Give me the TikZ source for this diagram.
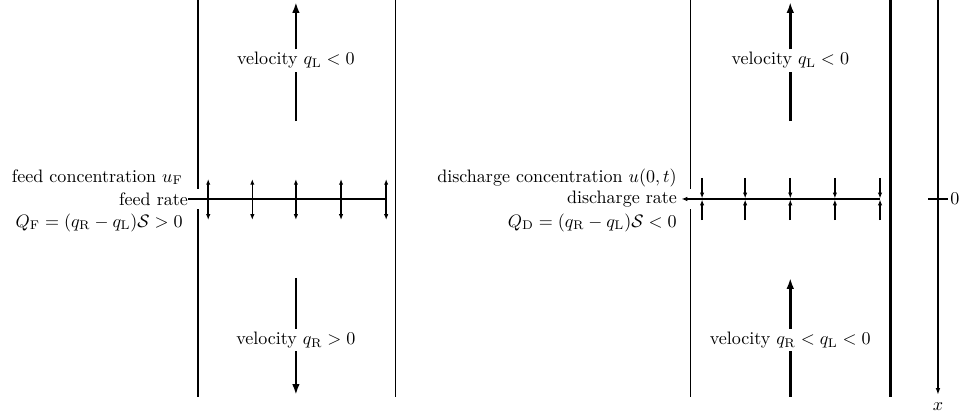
\documentclass[tikz,border=0pt]{standalone}
\usepackage{amsmath,amssymb}
\usetikzlibrary{arrows.meta}

\begin{document}
\begin{tikzpicture}[
  thickwall/.style={line width=1.4pt},
  thinwall/.style={line width=0.5pt},
  bigline/.style={line width=1.4pt},
  bigarrow/.style={line width=1.4pt, -{Latex[length=6pt,width=4.2pt]}},
  flowline/.style={line width=1.2pt},
  smallarrow/.style={line width=0.9pt, -{Latex[length=3.2pt,width=2.4pt]}},
  axisarrow/.style={line width=1pt, -{Latex[length=3.8pt,width=2.6pt]}},
  vlabel/.style={fill=white, inner sep=1.5pt},
  sidelabel/.style={inner sep=0pt}
]
\useasboundingbox (0,-4.23) rectangle (18.70,3.88);

% Left vessel: feed
\draw[thickwall] (3.86,3.88) -- (3.86,0.2);
\draw[thickwall] (3.86,-0.2) -- (3.86,-3.86);
\draw[thinwall] (7.72,3.88) -- (7.72,-3.86);

\node[sidelabel, anchor=base east] (fconc) at (3.57,0.33) {feed concentration $u_{\mathrm{F}}$};
\node[sidelabel, anchor=east] (frate) at (3.67,0) {feed rate};
\node[sidelabel, anchor=base east] (fflux) at (3.57,-0.55) {$Q_{\mathrm{F}} = (q_{\mathrm{R}}-q_{\mathrm{L}})\mathcal{S} > 0$};

\coordinate (fend) at (7.55,0);
\draw[flowline] (frate.east) -- (fend);

% Feed spreading up and down
\foreach \x [count=\i] in {4.06,4.92,5.77,6.65,7.53} {
  \coordinate (fc\i) at (\x,0);
  \coordinate (fu\i) at (\x,0.39);
  \coordinate (fd\i) at (\x,-0.41);
  \draw[smallarrow] (fc\i) -- (fu\i);
  \draw[smallarrow] (fc\i) -- (fd\i);
}

% Left velocities
\node[vlabel] (velLup) at (5.77,2.70) {velocity $q_{\mathrm{L}} < 0$};
\coordinate (lupbase) at (5.77,1.52);
\coordinate (luptip) at (5.77,3.84);
\draw[bigline] (lupbase) -- (velLup);
\draw[bigarrow] (velLup) -- (luptip);

\node[vlabel] (velLdown) at (5.77,-2.75) {velocity $q_{\mathrm{R}} > 0$};
\coordinate (ldownbase) at (5.77,-1.54);
\coordinate (ldowntip) at (5.77,-3.82);
\draw[bigline] (ldownbase) -- (velLdown);
\draw[bigarrow] (velLdown) -- (ldowntip);

% Right vessel: discharge
\draw[thinwall] (13.47,3.88) -- (13.47,0.2);
\draw[thinwall] (13.47,-0.2) -- (13.47,-3.86);
\draw[thickwall] (17.36,3.88) -- (17.36,-3.86);

\node[sidelabel, anchor=base east] (dconc) at (13.20,0.33) {discharge concentration $u(0,t)$};
\node[anchor=east, inner sep=2.4pt] (drate) at (13.29,0) {discharge rate};
\node[sidelabel, anchor=base east] (dflux) at (13.20,-0.55) {$Q_{\mathrm{D}} = (q_{\mathrm{R}}-q_{\mathrm{L}})\mathcal{S} < 0$};

\coordinate (dstart) at (17.16,0);
\draw[flowline, -{Latex[length=3.2pt,width=2.6pt]}] (dstart) -- (drate.east);

% Discharge collecting from above and below
\foreach \x [count=\i] in {13.69,14.53,15.41,16.28,17.16} {
  \coordinate (du\i) at (\x,0.41);
  \coordinate (dut\i) at (\x,0.01);
  \coordinate (dd\i) at (\x,-0.41);
  \coordinate (ddt\i) at (\x,-0.01);
  \draw[smallarrow] (du\i) -- (dut\i);
  \draw[smallarrow] (dd\i) -- (ddt\i);
}

% Right velocities
\node[vlabel] (velRup) at (15.41,2.70) {velocity $q_{\mathrm{L}} < 0$};
\coordinate (rupbase) at (15.41,1.52);
\coordinate (ruptip) at (15.41,3.84);
\draw[bigline] (rupbase) -- (velRup);
\draw[bigarrow] (velRup) -- (ruptip);

\node[vlabel] (velRlow) at (15.41,-2.75) {velocity $q_{\mathrm{R}} < q_{\mathrm{L}} < 0$};
\coordinate (rlowbase) at (15.41,-3.86);
\coordinate (rlowtip) at (15.41,-1.54);
\draw[bigline] (rlowbase) -- (velRlow);
\draw[bigarrow] (velRlow) -- (rlowtip);

% Depth axis
\coordinate (axtop) at (18.29,3.88);
\coordinate (axtip) at (18.29,-3.82);
\draw[axisarrow] (axtop) -- (axtip);
\node[anchor=north, inner sep=0pt] (xlab) at (18.29,-3.97) {$x$};
\coordinate (tickL) at (18.10,0);
\coordinate (tickR) at (18.49,0);
\draw[line width=1pt] (tickL) -- (tickR);
\node[anchor=west, inner sep=1pt] (zero) at (tickR) {$0$};

\end{tikzpicture}
\end{document}
